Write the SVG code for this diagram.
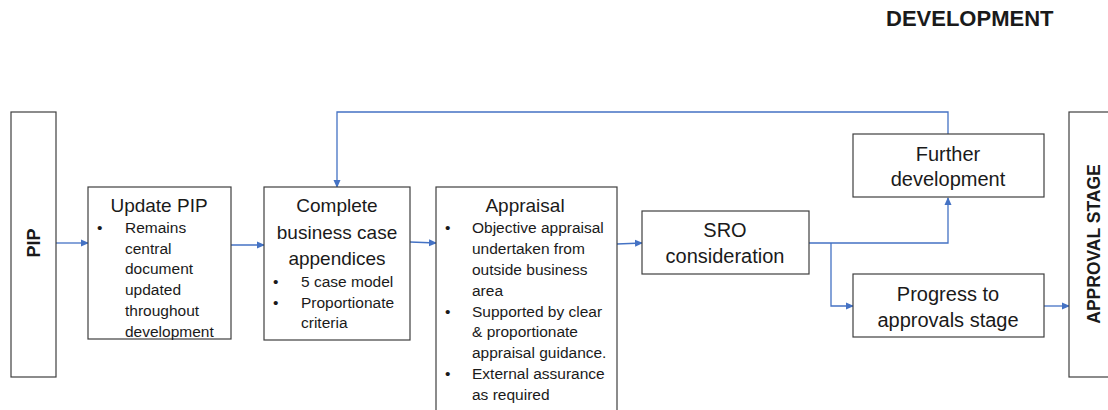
<svg xmlns="http://www.w3.org/2000/svg" width="1108" height="410" viewBox="0 0 1108 410">
<style>
.box{fill:#fff;stroke:#3f3f3f;stroke-width:1.2}
.t{font-family:"Liberation Sans",Arial,sans-serif;fill:#1a1a1a}
.h{font-size:19px;text-anchor:middle}
.h2{font-size:20px;text-anchor:middle}
.b{font-size:15.5px}
.bold{font-weight:bold}
.con{fill:none;stroke:#4472C4;stroke-width:1.3}
</style>
<defs>
<marker id="ah" markerWidth="8" markerHeight="8" refX="7" refY="4" orient="auto" markerUnits="userSpaceOnUse">
<path d="M0,0.5 L8,4 L0,7.5 Z" fill="#4472C4"/>
</marker>
</defs>
<text class="t bold" x="886" y="26" font-size="22">DEVELOPMENT</text>
<g id="connectors">
<path class="con" d="M56,243 H88" marker-end="url(#ah)"/>
<path class="con" d="M231,245 H264" marker-end="url(#ah)"/>
<path class="con" d="M410,242 L436,243" marker-end="url(#ah)"/>
<path class="con" d="M617,244 L642,243" marker-end="url(#ah)"/>
<path class="con" d="M807,243 H948 V198" marker-end="url(#ah)"/>
<path class="con" d="M831,243 V306 H853" marker-end="url(#ah)"/>
<path class="con" d="M1044,306 H1069" marker-end="url(#ah)"/>
<path class="con" d="M948,134 V112 H337 V187" marker-end="url(#ah)"/>
</g>
<g id="pip">
<rect class="box" x="11" y="112" width="45" height="265"/>
<text class="t bold" font-size="18" text-anchor="middle" transform="translate(40,243) rotate(-90)">PIP</text>
</g>
<g id="update-pip">
<rect class="box" x="88" y="187" width="143" height="152"/>
<text class="t h" x="159" y="212">Update PIP</text>
<text class="t b" x="97" y="233">•</text>
<text class="t b" x="125" y="233">Remains</text>
<text class="t b" x="125" y="254">central</text>
<text class="t b" x="125" y="274">document</text>
<text class="t b" x="125" y="295">updated</text>
<text class="t b" x="125" y="316">throughout</text>
<text class="t b" x="125" y="337">development</text>
</g>
<g id="complete">
<rect class="box" x="264" y="187" width="146" height="153"/>
<text class="t h" x="337" y="212">Complete</text>
<text class="t h" x="337" y="239">business case</text>
<text class="t h" x="337" y="265">appendices</text>
<text class="t b" x="273" y="287">•</text>
<text class="t b" x="301" y="287">5 case model</text>
<text class="t b" x="273" y="308">•</text>
<text class="t b" x="301" y="308">Proportionate</text>
<text class="t b" x="301" y="328">criteria</text>
</g>
<g id="appraisal">
<rect class="box" x="436" y="187" width="181" height="240"/>
<text class="t h" x="525" y="212">Appraisal</text>
<text class="t b" x="445" y="233">•</text>
<text class="t b" x="472" y="233">Objective appraisal</text>
<text class="t b" x="472" y="254">undertaken from</text>
<text class="t b" x="472" y="275">outside business</text>
<text class="t b" x="472" y="296">area</text>
<text class="t b" x="445" y="317">•</text>
<text class="t b" x="472" y="317">Supported by clear</text>
<text class="t b" x="472" y="337">&amp; proportionate</text>
<text class="t b" x="472" y="358">appraisal guidance.</text>
<text class="t b" x="445" y="379">•</text>
<text class="t b" x="472" y="379">External assurance</text>
<text class="t b" x="472" y="400">as required</text>
</g>
<g id="sro">
<rect class="box" x="642" y="211" width="167" height="63"/>
<text class="t h2" x="725" y="237">SRO</text>
<text class="t h2" x="725" y="263">consideration</text>
</g>
<g id="further">
<rect class="box" x="853" y="134" width="191" height="63"/>
<text class="t h2" x="948" y="161">Further</text>
<text class="t h2" x="948" y="186">development</text>
</g>
<g id="progress">
<rect class="box" x="853" y="274" width="191" height="63"/>
<text class="t h2" x="948" y="301">Progress to</text>
<text class="t h2" x="948" y="327">approvals stage</text>
</g>
<g id="approval">
<rect class="box" x="1069" y="112" width="50" height="265"/>
<text class="t bold" font-size="17.5" text-anchor="middle" transform="translate(1100,244) rotate(-90)">APPROVAL STAGE</text>
</g>
</svg>
